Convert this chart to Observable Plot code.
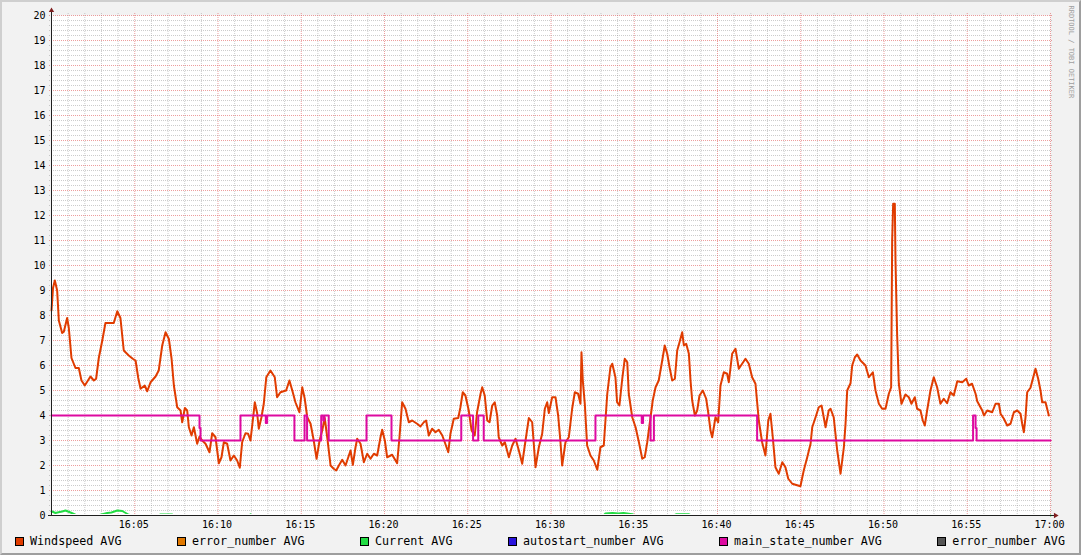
<!DOCTYPE html>
<html><head><meta charset="utf-8">
<script src="https://cdn.jsdelivr.net/npm/d3@7"></script>
<script src="https://cdn.jsdelivr.net/npm/@observablehq/plot@0.6"></script>
<style>
html,body{margin:0;padding:0;background:#f2f2f2;}
#wrap{position:relative;width:1081px;height:555px;overflow:hidden;background:#f2f2f2;font-family:"DejaVu Sans Mono",monospace;}
#chart{position:absolute;left:0;top:0;}
#border{position:absolute;left:0;top:0;width:1081px;height:555px;box-sizing:border-box;border-top:2px solid #cfcfcf;border-left:2px solid #cfcfcf;border-right:2px solid #9e9e9e;border-bottom:2px solid #9e9e9e;pointer-events:none;}
#legend{position:absolute;left:15px;top:535px;width:1050px;height:12px;display:flex;justify-content:space-between;align-items:center;font-size:11.7px;line-height:12px;color:#000;}
.item{display:flex;align-items:center;white-space:pre;}
.sw{width:7px;height:7px;border:1px solid #000;margin-right:6px;}
</style>
</head><body>
<div id="wrap"><div id="chart"></div><div id="legend"></div><div id="border"></div></div>
<script>
// ---- data (minutes after 16:00, value) ----
const windspeed = [[0,8.2],[0.09,9.1],[0.2,9.4],[0.34,9.0],[0.44,7.8],[0.64,7.3],[0.74,7.35],[0.94,7.9],[1.04,7.5],[1.2,6.3],[1.44,5.9],[1.64,5.9],[1.8,5.4],[2.0,5.2],[2.34,5.56],[2.54,5.4],[2.68,5.47],[2.84,6.3],[3.05,7.0],[3.24,7.7],[3.74,7.7],[3.95,8.17],[4.14,7.9],[4.34,6.6],[4.64,6.4],[4.88,6.27],[5.05,6.2],[5.21,5.5],[5.35,5.07],[5.6,5.2],[5.75,4.97],[5.95,5.33],[6.25,5.56],[6.44,5.8],[6.65,6.8],[6.85,7.33],[7.05,7.06],[7.21,6.28],[7.35,5.2],[7.55,4.33],[7.75,4.2],[7.85,3.73],[8.01,4.3],[8.15,4.2],[8.25,3.53],[8.41,3.2],[8.55,3.53],[8.75,2.87],[8.89,3.16],[9.05,3.0],[9.25,2.87],[9.49,2.53],[9.65,3.29],[9.85,3.13],[10.05,2.09],[10.21,2.33],[10.35,2.93],[10.55,2.87],[10.75,2.2],[10.95,2.4],[11.15,2.2],[11.31,1.91],[11.45,2.93],[11.65,3.29],[11.81,3.27],[11.95,3.0],[12.09,3.8],[12.21,4.53],[12.35,4.1],[12.45,3.47],[12.61,3.93],[12.75,4.47],[12.9,5.53],[13.15,5.8],[13.41,5.53],[13.55,4.73],[13.75,4.93],[14.09,5.0],[14.29,5.4],[14.49,4.93],[14.65,4.53],[14.89,4.13],[15.06,5.13],[15.21,4.67],[15.36,3.93],[15.56,3.67],[15.75,3.0],[15.92,2.27],[16.1,3.0],[16.26,3.4],[16.41,3.9],[16.56,3.13],[16.76,2.0],[16.95,1.87],[17.1,1.8],[17.26,2.0],[17.46,2.23],[17.66,2.0],[17.86,2.4],[17.96,2.6],[18.1,2.03],[18.26,2.73],[18.36,3.07],[18.56,2.87],[18.76,2.13],[18.96,2.47],[19.16,2.27],[19.36,2.47],[19.56,2.4],[19.76,3.13],[19.86,3.43],[20.02,3.0],[20.16,2.33],[20.46,2.43],[20.76,2.09],[20.9,3.13],[21.06,4.53],[21.26,4.27],[21.46,3.73],[21.66,3.8],[21.96,3.67],[22.16,3.56],[22.36,3.73],[22.5,3.8],[22.66,3.2],[22.86,3.47],[23.06,3.33],[23.26,3.43],[23.47,3.2],[23.62,2.93],[23.83,2.53],[23.96,3.27],[24.16,3.87],[24.43,3.9],[24.56,4.33],[24.7,4.93],[24.86,4.8],[25.06,4.2],[25.23,3.4],[25.42,3.2],[25.56,4.13],[25.77,4.87],[25.87,5.13],[26.02,4.8],[26.17,3.8],[26.31,3.73],[26.47,4.4],[26.62,4.53],[26.77,4.0],[26.86,3.13],[27.07,2.8],[27.23,2.93],[27.47,2.33],[27.67,2.8],[27.87,3.07],[28.07,2.6],[28.27,2.07],[28.47,3.0],[28.67,3.9],[28.87,3.73],[29.07,1.93],[29.27,2.73],[29.47,3.27],[29.63,4.27],[29.77,4.53],[29.87,4.1],[30.07,4.73],[30.27,4.73],[30.43,4.0],[30.57,2.93],[30.67,2.0],[30.87,2.93],[31.07,3.13],[31.27,4.27],[31.43,4.93],[31.63,4.87],[31.77,4.47],[31.83,6.53],[31.91,5.4],[32.03,4.47],[32.17,2.8],[32.37,2.4],[32.57,2.2],[32.78,1.83],[32.97,2.73],[33.17,2.8],[33.27,3.8],[33.38,4.87],[33.57,5.93],[33.68,6.07],[33.87,5.53],[33.97,4.53],[34.11,4.4],[34.28,5.47],[34.43,6.27],[34.58,6.13],[34.67,4.87],[34.88,3.93],[35.08,3.53],[35.28,2.93],[35.48,2.27],[35.63,2.33],[35.78,2.93],[35.98,3.93],[36.11,4.6],[36.28,5.13],[36.47,5.4],[36.68,6.2],[36.83,6.8],[36.98,6.47],[37.12,5.93],[37.28,5.4],[37.44,5.47],[37.58,6.6],[37.72,6.93],[37.88,7.33],[37.98,6.8],[38.12,6.87],[38.28,6.47],[38.38,5.4],[38.48,4.6],[38.64,4.0],[38.78,4.2],[38.92,4.8],[39.12,5.0],[39.32,4.67],[39.44,4.13],[39.58,3.4],[39.68,3.13],[39.88,3.93],[40.04,3.73],[40.18,5.2],[40.38,5.73],[40.58,5.67],[40.68,5.33],[40.88,6.47],[41.08,6.67],[41.28,5.87],[41.48,6.07],[41.68,6.27],[41.88,6.07],[42.08,5.53],[42.28,5.27],[42.48,3.8],[42.68,2.93],[42.88,2.4],[43.05,3.8],[43.18,4.07],[43.32,3.13],[43.48,1.93],[43.68,1.67],[43.89,2.13],[44.08,1.93],[44.25,1.47],[44.49,1.27],[44.98,1.17],[45.18,1.8],[45.39,2.33],[45.59,2.87],[45.69,3.53],[45.89,3.93],[46.08,4.33],[46.25,4.4],[46.38,3.93],[46.49,3.53],[46.68,4.2],[46.79,4.27],[46.98,3.93],[47.19,2.6],[47.39,1.67],[47.59,2.73],[47.69,3.67],[47.79,5.0],[47.99,5.29],[48.09,6.0],[48.25,6.33],[48.39,6.44],[48.59,6.2],[48.89,6.0],[49.09,5.53],[49.33,5.73],[49.49,5.0],[49.69,4.47],[49.89,4.27],[50.09,4.27],[50.29,4.87],[50.43,5.13],[50.49,11.0],[50.55,12.47],[50.65,12.47],[50.69,10.2],[50.79,7.2],[50.89,5.27],[51.05,4.47],[51.29,4.84],[51.49,4.73],[51.65,4.47],[51.85,4.73],[51.99,4.27],[52.19,4.2],[52.33,3.8],[52.45,3.6],[52.59,4.2],[52.79,5.0],[52.99,5.53],[53.19,5.13],[53.39,4.47],[53.59,4.67],[53.79,4.49],[53.99,4.93],[54.19,4.8],[54.4,5.37],[54.7,5.33],[54.94,5.47],[55.09,5.2],[55.29,5.27],[55.5,4.87],[55.6,4.57],[55.9,4.2],[56.0,4.0],[56.2,4.2],[56.5,4.13],[56.7,4.47],[56.9,4.47],[57.0,4.07],[57.2,3.87],[57.4,3.6],[57.6,3.67],[57.8,4.13],[58.0,4.2],[58.2,4.07],[58.3,3.67],[58.4,3.33],[58.5,3.93],[58.6,4.93],[58.8,5.11],[58.94,5.47],[59.1,5.87],[59.26,5.47],[59.4,5.0],[59.5,4.53],[59.7,4.53],[59.9,4.0]];

const mainState = [[0,4],[8.89,3.5],[8.95,3],[11.35,4],[12.87,3.7],[12.95,4],[14.59,3],[15.2,4],[15.35,3],[16.2,4],[16.33,3.8],[16.39,4],[16.65,3],[18.92,4],[20.42,3],[24.61,4],[25.32,3],[25.63,4],[25.96,3],[32.67,4],[35.45,3.7],[35.53,4],[35.98,3],[36.18,4],[42.38,3],[55.35,4],[55.5,3.5],[55.56,3],[60,3]];

const current = [[0,0.17],[0.24,0.1],[0.42,0.13],[0.64,0.16],[0.84,0.2],[1.14,0.12],[1.44,0.03],[1.62,0],[2.82,0],[2.94,0.03],[3.35,0.1],[3.6,0.12],[3.95,0.2],[4.25,0.18],[4.64,0.03],[4.8,0],[6.43,0],[6.55,0.04],[7.25,0.04],[7.33,0],[11.89,0],[11.95,0.05],[12.01,0],[33.15,0],[33.27,0.08],[33.69,0.1],[34.05,0.08],[34.35,0.1],[34.88,0.05],[35.02,0],[37.36,0],[37.54,0.05],[38.26,0.05],[38.44,0],[60,0]];

const yTicks = d3.range(0, 21);
const xTickMinutes = [5,10,15,20,25,30,35,40,45,50,55,60];
const xTickLabels = ["16:05","16:10","16:15","16:20","16:25","16:30","16:35","16:40","16:45","16:50","16:55","17:00"];

const legendNames = ["Windspeed AVG","error_number AVG","Current AVG","autostart_number AVG","main_state_number AVG","error_number AVG"];
const legendColors = ["#e03c00","#e07800","#22dd44","#2a14dd","#dd0aa0","#555555"];
const creditText = "RRDTOOL / TOBI OETIKER";

// ---- grid helpers ----
const minorX = d3.range(0, 61).filter(d => d % 5 !== 0);
const majorX = d3.range(5, 61, 5);
const minorY = d3.range(1, 100).map(d => d / 5).filter(d => Math.abs(d - Math.round(d)) > 1e-6);
const majorY = d3.range(1, 21);

const toObj = a => a.map(([m, v]) => ({m, v}));
const font = "DejaVu Sans Mono";

const chart = Plot.plot({
  width: 1081, height: 530,
  marginLeft: 51, marginRight: 31, marginTop: 15, marginBottom: 15,
  x: {domain: [0, 60], label: null},
  y: {domain: [0, 20], label: null},
  style: {background: "transparent", fontFamily: font, fontSize: "10px", color: "#000", overflow: "visible"},
  marks: [
    Plot.frame({fill: "white", stroke: null}),
    Plot.ruleX(minorX, {stroke: "#8f8f8f", strokeOpacity: 0.45, strokeDasharray: "1,1", insetTop: -2, insetBottom: -2}),
    Plot.ruleY(minorY, {stroke: "#8f8f8f", strokeOpacity: 0.45, strokeDasharray: "1,1", insetLeft: -2, insetRight: -2}),
    Plot.ruleX(majorX, {stroke: "#de4f4f", strokeOpacity: 0.55, strokeDasharray: "1,1", insetTop: -2, insetBottom: -2}),
    Plot.ruleY(majorY, {stroke: "#de4f4f", strokeOpacity: 0.55, strokeDasharray: "1,1", insetLeft: -2, insetRight: -2}),
    Plot.line(toObj(windspeed), {x: "m", y: "v", stroke: legendColors[0], strokeWidth: 2}),
    Plot.line(toObj(current), {x: "m", y: "v", stroke: legendColors[2], strokeWidth: 2}),
    Plot.line(toObj(mainState), {x: "m", y: "v", stroke: legendColors[4], strokeWidth: 2, curve: "step-after"}),
    Plot.ruleY([0], {stroke: "white", strokeWidth: 1, dy: -1, insetLeft: 1}),
    Plot.ruleY([0], {stroke: "#f2f2f2", strokeWidth: 1, dy: 1, insetLeft: 1}),
    Plot.ruleY([0], {stroke: "#1f1f1f", insetLeft: -3, insetRight: -4}),
    Plot.ruleX([0], {stroke: "#1f1f1f", insetTop: -4}),
    Plot.dot([{m: 0, v: 20}], {x: "m", y: "v", symbol: "triangle", r: 2, fill: "#801f1f", stroke: null, dy: -5}),
    Plot.dot([{m: 60, v: 0}], {x: "m", y: "v", symbol: "triangle", r: 2, fill: "#801f1f", stroke: null, dx: 5, rotate: 90}),
    Plot.axisY({ticks: yTicks, tickSize: 0, tickPadding: 6, fontSize: 10, fontFamily: font, label: null}),
    Plot.axisX({ticks: xTickMinutes, tickFormat: d => xTickLabels[xTickMinutes.indexOf(d)], tickSize: 0, tickPadding: 5, fontSize: 10, fontFamily: font, label: null, dx: -1}),
    Plot.text([creditText], {frameAnchor: "top-right", text: d => d, rotate: 90, textAnchor: "start", dx: 23, dy: -10, fontSize: 7, fill: "#9e9e9e", fontFamily: font, clip: false})
  ]
});
document.getElementById("chart").appendChild(chart);

const legend = document.getElementById("legend");
legendNames.forEach((name, i) => {
  const it = document.createElement("div");
  it.className = "item";
  const sw = document.createElement("div");
  sw.className = "sw";
  sw.style.background = legendColors[i];
  it.appendChild(sw);
  const t = document.createElement("span");
  t.textContent = name;
  it.appendChild(t);
  legend.appendChild(it);
});
</script>
</body></html>
